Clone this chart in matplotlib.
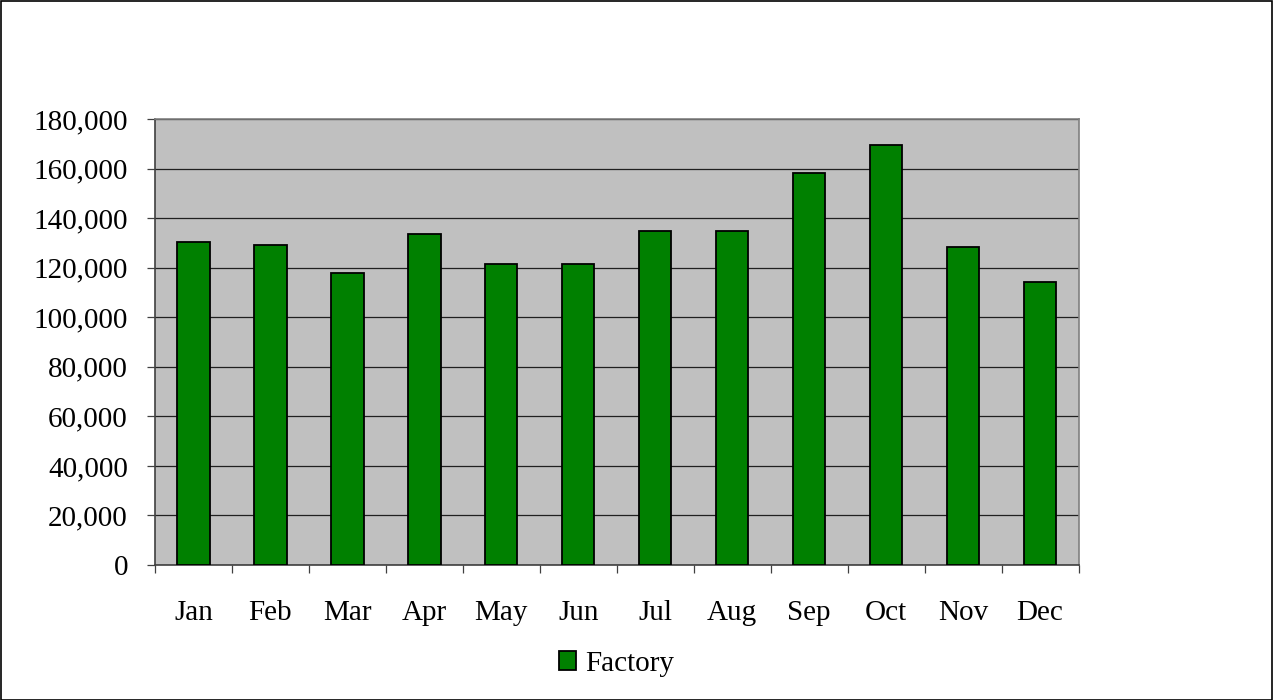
import matplotlib
matplotlib.use("Agg")
import matplotlib.pyplot as plt
from matplotlib.patches import Rectangle
from matplotlib.ticker import FuncFormatter, MultipleLocator

months = ["Jan", "Feb", "Mar", "Apr", "May", "Jun",
          "Jul", "Aug", "Sep", "Oct", "Nov", "Dec"]
factory = [130500, 129000, 118000, 133500, 121500, 121500,
           134800, 134800, 158300, 169600, 128500, 114200]

plt.rcParams["font.family"] = ["Liberation Serif", "DejaVu Serif"]

W, H = 1273, 700
fig = plt.figure(figsize=(W / 100, H / 100), dpi=100)
fig.patches.append(Rectangle((0.5 / W, 0.5 / H), 1 - 1.5 / W, 1 - 1.5 / H,
                             transform=fig.transFigure, fill=False,
                             edgecolor="black", linewidth=1.2))

ax = fig.add_axes([155 / W, 1 - 565 / H, (1078.5 - 155) / W, (565 - 119) / H])
ax.set_facecolor("#C0C0C0")

x = range(len(months))
bars = ax.bar(x, factory, width=0.42, color="#008000", edgecolor="black",
              linewidth=1.3, zorder=3, label="Factory")

ax.set_xlim(-0.5, len(months) - 0.5)
ax.set_ylim(0, 180000)
ax.yaxis.set_major_locator(MultipleLocator(20000))
ax.yaxis.set_major_formatter(FuncFormatter(lambda v, _: f"{int(v):,}"))
ax.grid(axis="y", color="#202020", linewidth=0.9, zorder=1)

# ticks sit between categories, labels sit under the bars
ax.set_xticks([i - 0.5 for i in range(len(months) + 1)])
ax.set_xticklabels([])
ax.set_xticks(list(x), minor=True)
ax.set_xticklabels(months, minor=True, fontsize=21)
ax.tick_params(axis="x", which="major", direction="out", length=6, width=0.9,
               color="#404040")
ax.tick_params(axis="x", which="minor", length=0, pad=25)
ax.tick_params(axis="y", direction="out", length=6, width=0.9, color="#404040",
               labelsize=21, pad=13.5)

ax.spines["top"].set_color("#808080")
ax.spines["right"].set_color("#808080")
ax.spines["left"].set_color("#404040")
ax.spines["bottom"].set_color("#404040")
for s in ax.spines.values():
    s.set_linewidth(1.2)

fig.legend(handles=[bars], labels=["Factory"], loc="center",
           bbox_to_anchor=(616.5 / W, 1 - 664 / H), frameon=False,
           fontsize=21, handlelength=0.6, handleheight=0.6, handletextpad=0.3,
           borderpad=0, borderaxespad=0)

fig.savefig("out.png", dpi=100)
